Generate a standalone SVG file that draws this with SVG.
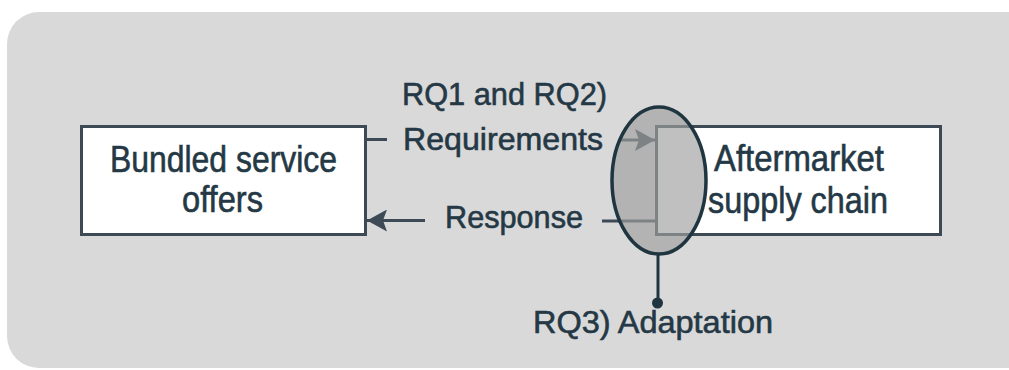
<svg xmlns="http://www.w3.org/2000/svg" width="1009" height="370" viewBox="0 0 1009 370">
  <style>
    .box { fill: #ffffff; stroke: #3d4954; stroke-width: 3; }
    .t { font-family: "Liberation Sans", Arial, sans-serif; fill: #243845; stroke: #243845; stroke-width: 0.6px; }
    .bt { font-size: 36px; }
    .lt { font-size: 32px; }
    .ln { stroke: #3d4954; stroke-width: 3; fill: none; }
  </style>
  <defs>
    <marker id="ah" markerUnits="userSpaceOnUse" markerWidth="22" markerHeight="22" refX="20" refY="11" orient="auto">
      <path d="M0,0 L20,11 L0,22 L4,11 Z" fill="#3d4954"/>
    </marker>
  </defs>
  <rect x="7" y="12" width="1040" height="356" rx="32" ry="32" fill="#d9d9d9"/>

  <g id="node-bundled">
    <rect class="box" x="81.5" y="126.5" width="284" height="108"/>
    <text class="t bt" x="110" y="172" textLength="227" lengthAdjust="spacingAndGlyphs">Bundled service</text>
    <text class="t bt" x="182" y="212" textLength="81" lengthAdjust="spacingAndGlyphs">offers</text>
  </g>

  <g id="node-aftermarket">
    <rect class="box" x="656.5" y="126.5" width="284" height="108"/>
  </g>

  <g id="connectors">
    <line class="ln" x1="367" y1="139.5" x2="387" y2="139.5"/>
    <line class="ln" x1="620" y1="140" x2="655" y2="140" marker-end="url(#ah)"/>
    <line class="ln" x1="655" y1="221" x2="602" y2="221"/>
    <line class="ln" x1="425" y1="220.5" x2="367" y2="220.5" marker-end="url(#ah)"/>
    <line x1="658" y1="255" x2="658" y2="303" stroke="#1f3540" stroke-width="3"/>
    <circle cx="657.5" cy="303" r="5.5" fill="#1f3540"/>
  </g>

  <g id="node-adaptation">
    <ellipse cx="659" cy="180.5" rx="47" ry="73.5" fill="#9f9f9f" fill-opacity="0.66" stroke="#1f3540" stroke-width="3.5"/>
  </g>

  <g id="labels">
    <text class="t bt" x="714" y="171" textLength="170" lengthAdjust="spacingAndGlyphs">Aftermarket</text>
    <text class="t bt" x="708" y="213" textLength="180" lengthAdjust="spacingAndGlyphs">supply chain</text>
    <text class="t lt" x="402" y="105" textLength="205" lengthAdjust="spacingAndGlyphs">RQ1 and RQ2)</text>
    <text class="t lt" x="403" y="150" textLength="200" lengthAdjust="spacingAndGlyphs">Requirements</text>
    <text class="t lt" x="445" y="228" textLength="138" lengthAdjust="spacingAndGlyphs">Response</text>
    <text class="t lt" x="533" y="333" textLength="240" lengthAdjust="spacingAndGlyphs">RQ3) Adaptation</text>
  </g>
</svg>
